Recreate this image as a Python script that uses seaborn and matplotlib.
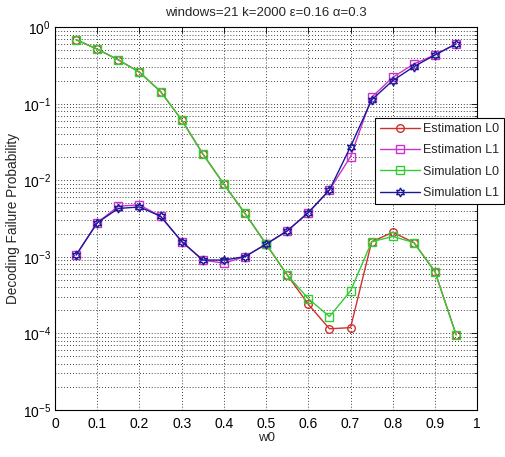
import numpy as np
import pandas as pd
import matplotlib
matplotlib.use("Agg")
import matplotlib.pyplot as plt
import matplotlib.ticker as mticker
import seaborn as sns

# Window position parameter
w0 = [0.05, 0.10, 0.15, 0.20, 0.25, 0.30, 0.35, 0.40, 0.45, 0.50,
      0.55, 0.60, 0.65, 0.70, 0.75, 0.80, 0.85, 0.90, 0.95]

# Decoding failure probabilities
estimation_l0 = [0.69, 0.52, 0.376, 0.26, 0.145, 0.0618, 0.0222, 0.0089, 0.0037, 0.00147,
                 5.8e-4, 2.4e-4, 1.15e-4, 1.19e-4, 1.58e-3, 2.1e-3, 1.54e-3, 6.4e-4, 9.6e-5]
estimation_l1 = [1.06e-3, 2.8e-3, 4.6e-3, 4.8e-3, 3.4e-3, 1.59e-3, 9.1e-4, 8.3e-4, 1.01e-3, 1.47e-3,
                 2.19e-3, 3.8e-3, 7.5e-3, 0.0205, 0.122, 0.223, 0.333, 0.437, 0.61]
simulation_l0 = [0.69, 0.52, 0.376, 0.26, 0.145, 0.0618, 0.0222, 0.0089, 0.0037, 0.00147,
                 5.8e-4, 2.85e-4, 1.66e-4, 3.6e-4, 1.58e-3, 1.85e-3, 1.54e-3, 6.4e-4, 9.6e-5]
simulation_l1 = [1.06e-3, 2.8e-3, 4.3e-3, 4.5e-3, 3.4e-3, 1.59e-3, 9.1e-4, 9.1e-4, 1.01e-3, 1.47e-3,
                 2.19e-3, 3.8e-3, 7.5e-3, 0.0277, 0.113, 0.202, 0.307, 0.437, 0.61]

series_names = ["Estimation L0", "Estimation L1", "Simulation L0", "Simulation L1"]
series_values = [estimation_l0, estimation_l1, simulation_l0, simulation_l1]
series_colors = ["#d03030", "#cc33cc", "#33cc33", "#1a1a99"]
series_markers = ["o", "s", "s", (6, 1, 0)]
series_msize = [5.5, 5.5, 5.5, 6.5]

df = pd.concat(
    [pd.DataFrame({"w0": w0, "p": vals, "series": name})
     for name, vals in zip(series_names, series_values)],
    ignore_index=True,
)

sns.set_theme(style="white")
plt.rcParams["font.family"] = ["Liberation Sans", "DejaVu Sans"]
plt.rcParams["mathtext.fontset"] = "custom"
plt.rcParams["mathtext.rm"] = "Liberation Sans"
plt.rcParams["mathtext.it"] = "Liberation Sans"

fig = plt.figure(figsize=(5.05, 4.57), dpi=100)
ax = fig.add_axes([0.109, 0.103, 0.836, 0.837])

for name, color, marker, ms in zip(series_names, series_colors, series_markers, series_msize):
    sns.lineplot(
        data=df[df["series"] == name], x="w0", y="p", ax=ax,
        color=color, marker=marker, markersize=ms, markerfacecolor="none",
        markeredgecolor=color, markeredgewidth=1.0, linewidth=1.0, label=name,
    )

ax.set_yscale("log")
ax.set_xlim(0, 1)
ax.set_ylim(1e-5, 1)
ax.set_xticks(np.arange(0, 1.01, 0.1))
ax.set_xticklabels(["0", "0.1", "0.2", "0.3", "0.4", "0.5", "0.6", "0.7", "0.8", "0.9", "1"])
ax.yaxis.set_major_locator(mticker.LogLocator(base=10, numticks=10))
ax.yaxis.set_minor_locator(mticker.LogLocator(base=10, subs=np.arange(2, 10), numticks=20))
ax.yaxis.set_minor_formatter(mticker.NullFormatter())

ax.tick_params(axis="both", which="both", direction="in", top=True, right=True,
               labelsize=10, colors="black")
ax.tick_params(axis="both", which="major", length=4, width=0.6)
ax.tick_params(axis="y", which="minor", length=2, width=0.5)
ax.tick_params(axis="x", pad=5)
ax.tick_params(axis="y", pad=3)

grid_style = dict(color="black", linestyle=(0, (1, 2.5)), linewidth=0.6)
ax.grid(True, which="major", axis="both", **grid_style)
ax.grid(True, which="minor", axis="y", **grid_style)
ax.set_axisbelow(True)

for spine in ax.spines.values():
    spine.set_color("black")
    spine.set_linewidth(0.8)

ax.set_xlabel("w0", fontsize=9.5, labelpad=1)
ax.set_ylabel("Decoding Failure Probability", fontsize=9.8, labelpad=2)
ax.set_title("windows=21 k=2000 \u03b5=0.16 \u03b1=0.3", fontsize=9.5, pad=8)

leg = ax.legend(
    loc="upper left", bbox_to_anchor=(375 / 505, 1 - 118 / 457),
    bbox_transform=fig.transFigure, frameon=True, fancybox=False,
    edgecolor="black", framealpha=1, fontsize=9, handlelength=3.2,
    borderpad=0.4, labelspacing=0.75, handletextpad=0.25, borderaxespad=0,
)
leg.get_frame().set_linewidth(0.8)

fig.savefig("out.png", dpi=100, facecolor="white")
